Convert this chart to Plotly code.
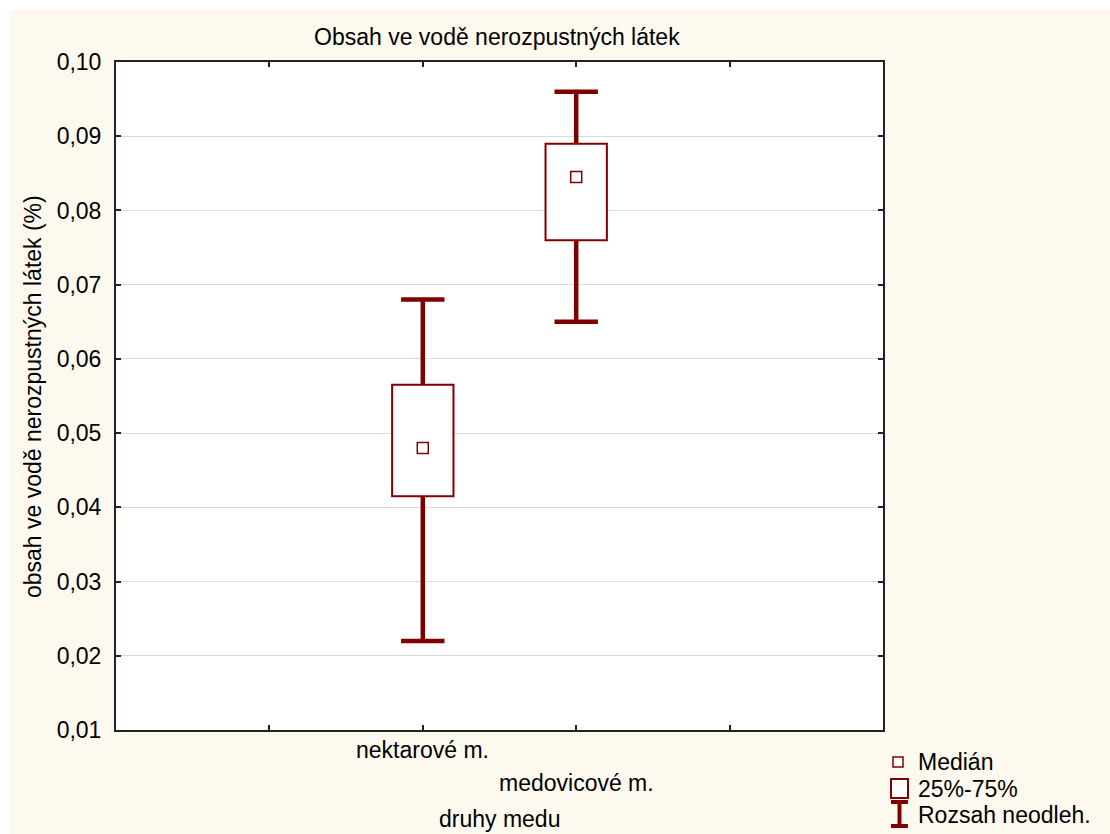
import plotly.graph_objects as go

# ---- data ----
categories = ["nektarové m.", "medovicové m."]
cat_pos = [2, 3]
minimum = [0.022, 0.065]
q1 = [0.0415, 0.076]
median = [0.048, 0.0845]
q3 = [0.0565, 0.089]
maximum = [0.068, 0.096]
y_ticks = [0.01, 0.02, 0.03, 0.04, 0.05, 0.06, 0.07, 0.08, 0.09, 0.10]
legend_labels = ["Medián", "25%-75%", "Rozsah neodleh."]

RED = "#800000"
CREAM = "#FDF9EF"
FONT = "Liberation Sans, Arial, sans-serif"
FS = 23

W, H = 1110, 834
L, R, T, B = 116, 227, 62, 104
PW, PH = W - L - R, H - T - B


def px(xp):
    return (xp - L) / PW


def py(yp):
    return (H - B - yp) / PH


fig = go.Figure()

# boxes (25%-75%)
fig.add_trace(go.Bar(
    x=cat_pos, y=[b - a for a, b in zip(q1, q3)], base=q1, width=0.4,
    marker=dict(color="white", line=dict(color=RED, width=2)),
    showlegend=False, hoverinfo="skip"))

# whiskers
wx, wy = [], []
for x, mn, a, b, mx in zip(cat_pos, minimum, q1, q3, maximum):
    wx += [x, x, None, x, x, None]
    wy += [mn, a, None, b, mx, None]
fig.add_trace(go.Scatter(x=wx, y=wy, mode="lines",
                         line=dict(color=RED, width=4.5),
                         showlegend=False, hoverinfo="skip"))

# caps
cx, cy = [], []
for x, mn, mx in zip(cat_pos, minimum, maximum):
    cx += [x, x]
    cy += [mn, mx]
fig.add_trace(go.Scatter(x=cx, y=cy, mode="markers",
                         marker=dict(symbol="line-ew", size=31,
                                     line=dict(color=RED, width=4.5)),
                         showlegend=False, hoverinfo="skip"))

# medians
fig.add_trace(go.Scatter(x=cat_pos, y=median, mode="markers",
                         marker=dict(symbol="square-open", size=11, color=RED,
                                     line=dict(color=RED, width=1.5)),
                         showlegend=False, hoverinfo="skip"))

shapes = [
    # white strips left/top (outside cream area)
    dict(type="rect", xref="paper", yref="paper", x0=px(0), x1=px(9), y0=py(H), y1=py(0),
         fillcolor="white", line=dict(width=0), layer="below"),
    dict(type="rect", xref="paper", yref="paper", x0=px(0), x1=px(W), y0=py(10), y1=py(0),
         fillcolor="white", line=dict(width=0), layer="below"),
    # legend symbols
    dict(type="rect", xref="paper", yref="paper", x0=px(893), x1=px(903), y0=py(767), y1=py(757),
         fillcolor="white", line=dict(color=RED, width=1.5)),
    dict(type="rect", xref="paper", yref="paper", x0=px(891), x1=px(908), y0=py(798), y1=py(779),
         fillcolor="white", line=dict(color=RED, width=2)),
    dict(type="line", xref="paper", yref="paper", x0=px(899.5), x1=px(899.5), y0=py(827), y1=py(801),
         line=dict(color=RED, width=4)),
    dict(type="line", xref="paper", yref="paper", x0=px(891), x1=px(908), y0=py(802), y1=py(802),
         line=dict(color=RED, width=4)),
    dict(type="line", xref="paper", yref="paper", x0=px(891), x1=px(908), y0=py(826), y1=py(826),
         line=dict(color=RED, width=4)),
]

annotations = [
    dict(text="Obsah ve vodě nerozpustných látek", xref="paper", yref="paper",
         x=px(497), y=py(37), showarrow=False, xanchor="center", yanchor="middle",
         font=dict(size=FS, color="black", family=FONT)),
    dict(text="obsah ve vodě nerozpustných látek (%)", xref="paper", yref="paper",
         x=px(33), y=py(397), showarrow=False, textangle=-90, xanchor="center", yanchor="middle",
         font=dict(size=FS, color="black", family=FONT)),
    dict(text="druhy medu", xref="paper", yref="paper",
         x=px(499), y=py(819), showarrow=False, xanchor="center", yanchor="middle",
         font=dict(size=FS, color="black", family=FONT)),
]
# staggered category labels
label_rows = [750, 783]
for x, lab, row in zip(cat_pos, categories, label_rows):
    annotations.append(dict(text=lab, xref="x", yref="paper", x=x, y=py(row),
                            showarrow=False, xanchor="center", yanchor="middle",
                            font=dict(size=FS, color="black", family=FONT)))
legend_rows = [762, 789, 815]
for lab, row in zip(legend_labels, legend_rows):
    annotations.append(dict(text=lab, xref="paper", yref="paper", x=px(916), y=py(row),
                            showarrow=False, xanchor="left", yanchor="middle",
                            font=dict(size=FS, color="black", family=FONT)))

fig.update_layout(
    width=W, height=H,
    margin=dict(l=L, r=R, t=T, b=B, pad=0),
    paper_bgcolor=CREAM, plot_bgcolor="white",
    separators=",.",
    font=dict(family=FONT, size=FS, color="black"),
    showlegend=False,
    shapes=shapes, annotations=annotations,
    xaxis=dict(range=[0, 5], tickvals=[1, 2, 3, 4], showticklabels=False,
               ticks="inside", ticklen=5, tickwidth=2, tickcolor="#222",
               showgrid=False, zeroline=False, showline=True, linecolor="#222",
               linewidth=2, mirror="ticks"),
    yaxis=dict(range=[0.01, 0.10], tickvals=y_ticks, tickformat=".2f",
               ticks="inside", ticklen=5, tickwidth=1.5, tickcolor="#222",
               showgrid=True, gridcolor="#DCDCDC", gridwidth=1,
               zeroline=False, showline=True, linecolor="#222", linewidth=2,
               mirror="ticks", ticklabelstandoff=8,
               tickfont=dict(size=FS, family=FONT, color="black")),
)

fig.write_html("out.html", config={"displayModeBar": False},
               post_script="document.body.style.margin='0';document.documentElement.style.overflow='hidden';document.body.style.overflow='hidden';")
